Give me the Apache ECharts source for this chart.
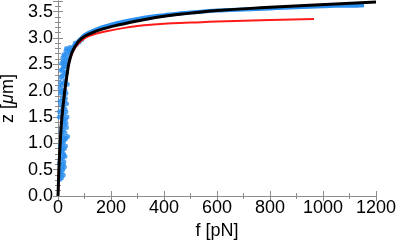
<!DOCTYPE html>
<html><head><meta charset="utf-8">
<script src="https://cdn.jsdelivr.net/npm/echarts@6/dist/echarts.min.js"></script>
<style>html,body{margin:0;padding:0;background:#fff}#c{width:399px;height:247px}</style>
</head><body><div id="c"></div>
<script>
// Measured data (scatter, noisy low-force part)
const dataNoisy = [
 [8,0.32],[14,0.35],[20,0.4],[10,0.45],[18,0.5],[24,0.55],[12,0.6],[6,0.62],
 [22,0.65],[16,0.7],[26,0.75],[20,0.8],[14,0.85],[24,0.9],[28,0.95],[18,1.0],[9,0.97],
 [22,1.05],[30,1.1],[36,1.13],[16,1.15],[26,1.2],[20,1.25],[32,1.3],[24,1.35],[18,1.4],[28,1.45],[34,1.5],[5,1.5],
 [22,1.55],[6,1.6],[30,1.6],[26,1.65],[20,1.7],[32,1.75],[8,1.8],[24,1.8],[28,1.85],[22,1.9],[10,1.95],[30,1.95],[26,2.0],
 [8,2.05],[14,2.1],[20,2.15],[28,2.2],[12,2.25],[22,2.3],[32,2.35],[16,2.4],[26,2.45],[36,2.5],[20,2.55],[30,2.6],
 [40,2.62],[25,2.66],[35,2.7],[45,2.72],[50,2.76],[40,2.78],[55,2.8],[60,2.84],[70,2.88],[80,2.92],[90,2.97],
 [15,1.02],[27,1.08],[12,1.22],[30,1.38],[14,1.62],[18,2.0],[35,2.12],[24,2.5],[18,2.62],[30,2.75],
 [12,0.42],[16,0.52],[20,0.6],[10,0.72],[22,0.78],[18,0.88],[12,0.92],[20,1.1],[14,1.3],[22,1.45],
 [16,1.52],[12,1.72],[16,1.85],[14,1.98],[10,2.15],[16,2.28],[26,2.35],[12,2.38],[20,2.45],[14,2.52],
 [28,2.55],[22,2.68],[32,2.8],[45,2.82],[65,2.9]
];
// Measured data (smooth high-force part)
const dataSmooth = [
 [55,2.8],[70,2.9],[85,2.98],[100,3.05],[130,3.13],[160,3.19],[200,3.25],[250,3.31],[300,3.36],[350,3.4],
 [400,3.43],[450,3.46],[500,3.48],[550,3.5],[600,3.52],[650,3.53],[700,3.54],[750,3.55],[800,3.56],
 [850,3.57],[900,3.58],[950,3.59],[1000,3.6],[1050,3.61],[1100,3.61],[1155,3.62]
];
// Model 1 (black)
const modelBlack = [
 [0,0],[2,0.3],[5,0.7],[10,1.15],[14,1.45],[24,1.93],[37,2.4],[45,2.6],[60,2.8],[89,2.99],[130,3.1],
 [177,3.18],[250,3.27],[309,3.33],[400,3.41],[500,3.47],[600,3.52],[800,3.58],[950,3.62],[1200,3.68]
];
// Model 2 (red)
const modelRed = [
 [0,0],[2,0.3],[5,0.7],[10,1.15],[14,1.45],[24,1.93],[37,2.39],[45,2.58],[60,2.77],[89,2.95],[130,3.06],
 [177,3.12],[250,3.19],[309,3.23],[400,3.27],[500,3.29],[600,3.31],[800,3.34],[966,3.36]
];
const xTicks = {min:0, max:1200, interval:200};
const yTicks = {min:0, max:3.7, interval:0.5};

const gray = '#8c8c8c';
const font = 'Liberation Sans';
const baseAxis = {
  axisLine:{show:true,lineStyle:{color:gray,width:1}},
  axisTick:{show:true,inside:true,length:5,lineStyle:{color:gray}},
  splitLine:{show:false},
};
const chart = echarts.init(document.getElementById('c'));
chart.setOption({
  animation:false,
  grid:{left:58,right:23,top:1,bottom:51,containLabel:false,outerBoundsMode:'none'},
  xAxis:[
    Object.assign({type:'value',position:'bottom',min:xTicks.min,max:xTicks.max,interval:xTicks.interval,
      name:'f [pN]',nameLocation:'middle',nameGap:24,
      nameTextStyle:{fontFamily:font,fontSize:18,color:'#000'},
      axisLabel:{fontFamily:font,fontSize:18,color:'#000',margin:3,formatter:v=>String(v)}},baseAxis,
      {minorTick:{show:true,splitNumber:2,length:3,lineStyle:{color:gray}}}),
    Object.assign({type:'value',position:'top',min:xTicks.min,max:xTicks.max,interval:xTicks.interval,
      axisLabel:{show:false}},baseAxis,
      {minorTick:{show:true,splitNumber:2,length:3,lineStyle:{color:gray}}})
  ],
  yAxis:[
    Object.assign({type:'value',position:'left',min:yTicks.min,max:yTicks.max,interval:yTicks.interval,
      name:'{a|z [}{b|μ}{a|m]}',nameLocation:'middle',nameGap:36,
      nameTextStyle:{rich:{a:{fontFamily:font,fontSize:18,color:'#000'},b:{fontFamily:font,fontSize:18,fontStyle:'italic',color:'#000'}}},
      axisLabel:{fontFamily:font,fontSize:18,color:'#000',margin:5,showMaxLabel:false,formatter:v=>v.toFixed(1)}},baseAxis,
      {minorTick:{show:true,splitNumber:5,length:3,lineStyle:{color:gray}}}),
    Object.assign({type:'value',position:'right',min:yTicks.min,max:yTicks.max,interval:yTicks.interval,
      axisLabel:{show:false}},baseAxis,
      {minorTick:{show:true,splitNumber:5,length:3,lineStyle:{color:gray}}})
  ],
  series:[
    {type:'scatter',data:dataNoisy,symbol:'circle',symbolSize:5,itemStyle:{color:'#2a8fef'},silent:true},
    {type:'line',data:dataSmooth,smooth:true,showSymbol:false,lineStyle:{color:'#2a8fef',width:4},silent:true},
    {type:'line',data:modelRed,smooth:true,showSymbol:false,lineStyle:{color:'#ff1a1a',width:2},silent:true},
    {type:'line',data:modelBlack,smooth:true,showSymbol:false,lineStyle:{color:'#000',width:3},silent:true}
  ]
});
</script></body></html>
